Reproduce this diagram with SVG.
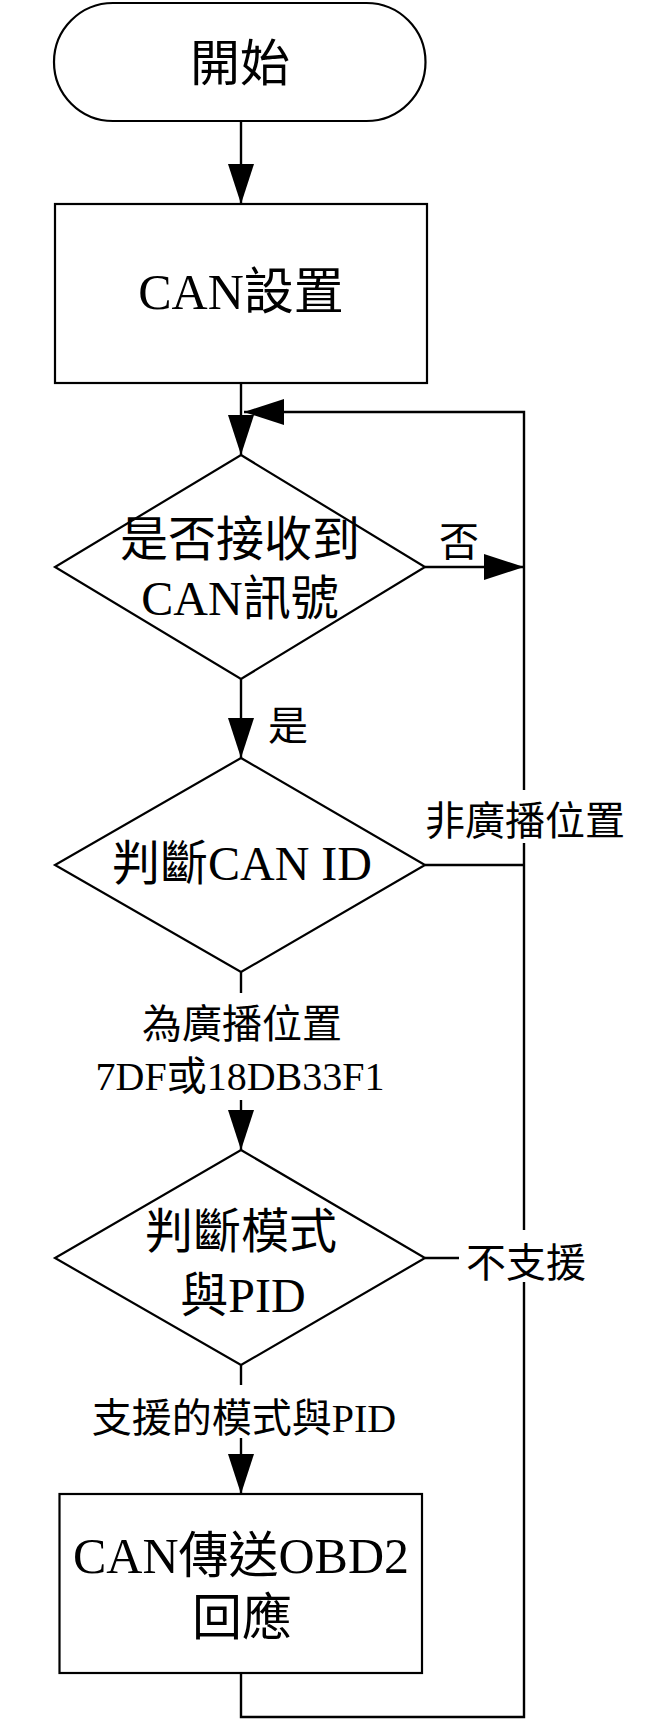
<svg xmlns="http://www.w3.org/2000/svg" width="664" height="1723" viewBox="0 0 664 1723">
<style>
.shape{fill:#fff;stroke:#000;stroke-width:2.2}
.conn{fill:none;stroke:#000;stroke-width:2.4}
.t{font-family:'Liberation Serif','Noto Sans CJK TC',serif;fill:#000;text-anchor:middle}
.n{font-size:48px}
.b{font-size:50px}
.l{font-size:40px}
</style>
<defs>
<marker id="arr" markerUnits="userSpaceOnUse" markerWidth="40" markerHeight="26" refX="40" refY="13" orient="auto">
<path d="M0,0 L40,13 L0,26 z" fill="#000"/>
</marker>
</defs>
<rect width="664" height="1723" fill="#fff"/>
<g id="connectors">
<path class="conn" d="M241,121 V204" marker-end="url(#arr)"/>
<path class="conn" d="M241,383 V455" marker-end="url(#arr)"/>
<path class="conn" d="M425,567 H524" marker-end="url(#arr)"/>
<path class="conn" d="M241,679 V758" marker-end="url(#arr)"/>
<path class="conn" d="M425,865 H524"/>
<path class="conn" d="M241,972 V993"/>
<path class="conn" d="M241,1100 V1150" marker-end="url(#arr)"/>
<path class="conn" d="M425,1258 H459"/>
<path class="conn" d="M241,1365 V1385"/>
<path class="conn" d="M241,1438 V1494" marker-end="url(#arr)"/>
<path class="conn" d="M241,1673 V1717 H524 V1282"/>
<path class="conn" d="M524,1230 V843"/>
<path class="conn" d="M524,790 V412 H244" marker-end="url(#arr)"/>
<text class="t l" x="459" y="556">否</text>
<text class="t l" x="288" y="740">是</text>
<text class="t l" x="525" y="835">非廣播位置</text>
<text class="t l" x="242" y="1038">為廣播位置</text>
<text class="t l" x="240" y="1090">7DF或18DB33F1</text>
<text class="t l" x="526" y="1277">不支援</text>
<text class="t l" x="244" y="1432">支援的模式與PID</text>
</g>
<g id="start">
<rect class="shape" x="54" y="3" width="371.5" height="118" rx="59" ry="59"/>
<text class="t b" x="240" y="81">開始</text>
</g>
<g id="can-setup">
<rect class="shape" x="55" y="204" width="372" height="179"/>
<text class="t b" x="241" y="309">CAN設置</text>
</g>
<g id="receive-check">
<polygon class="shape" points="241,455 425,567 241,679 55,567"/>
<text class="t n" x="240" y="556">是否接收到</text>
<text class="t n" x="240" y="615">CAN訊號</text>
</g>
<g id="id-check">
<polygon class="shape" points="241,758 425,865 241,972 55,865"/>
<text class="t n" x="242" y="880">判斷CAN ID</text>
</g>
<g id="mode-check">
<polygon class="shape" points="241,1150 425,1258 241,1365 55,1258"/>
<text class="t n" x="241" y="1248">判斷模式</text>
<text class="t n" x="243" y="1312">與PID</text>
</g>
<g id="send-response">
<rect class="shape" x="59.5" y="1494" width="362.5" height="179"/>
<text class="t b" x="241" y="1573">CAN傳送OBD2</text>
<text class="t b" x="242" y="1635">回應</text>
</g>
</svg>
